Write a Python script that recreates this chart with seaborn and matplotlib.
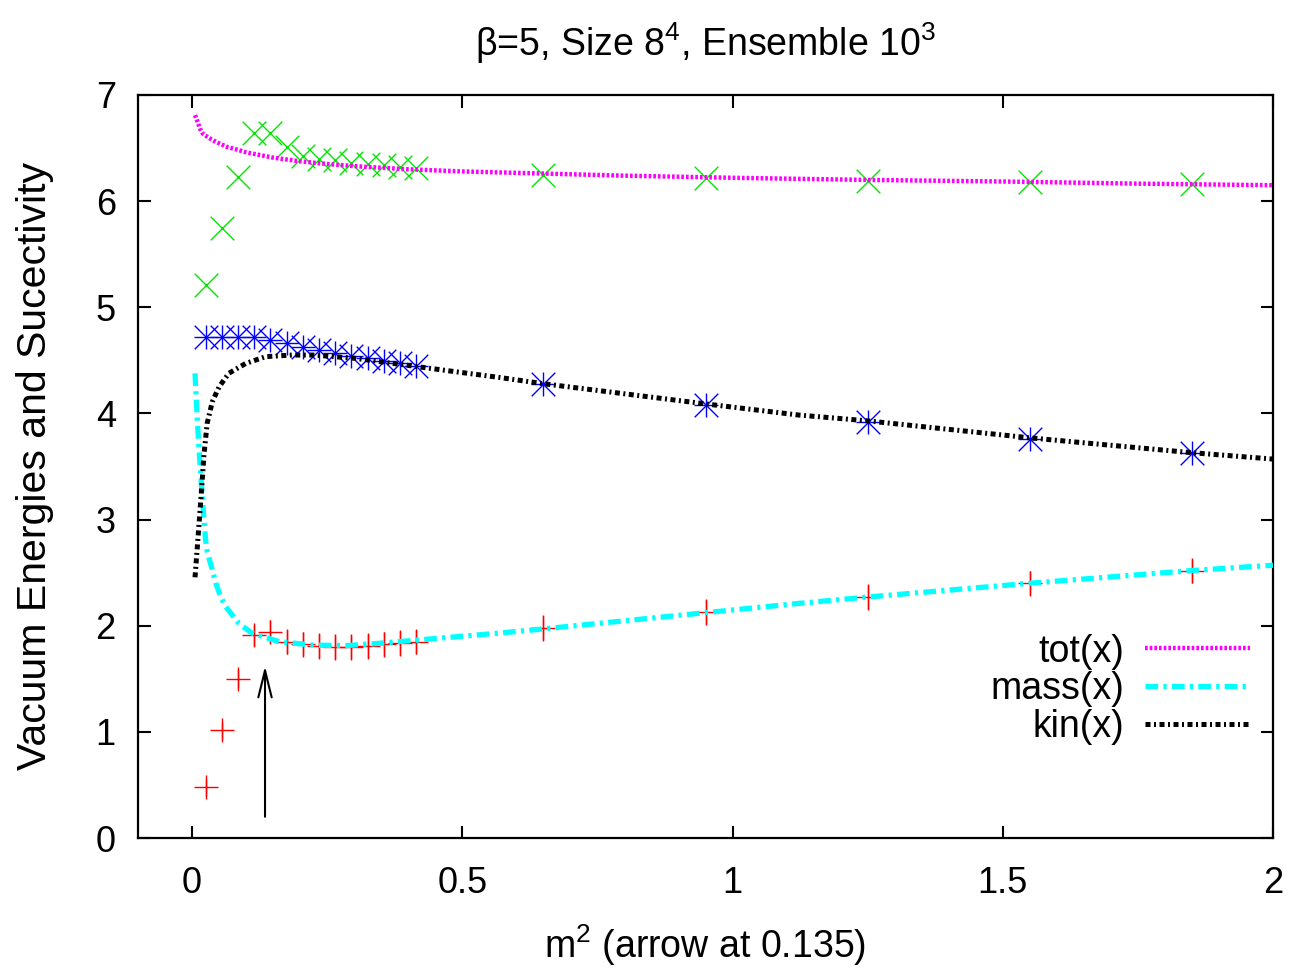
import matplotlib
matplotlib.use("Agg")
import matplotlib.pyplot as plt
import seaborn as sns
import numpy as np

# ---- data points ----
m2_points = [0.025, 0.055, 0.085, 0.115, 0.145, 0.175, 0.205, 0.235, 0.265, 0.295,
             0.325, 0.355, 0.385, 0.415, 0.65, 0.95, 1.25, 1.55, 1.85]
red_vals = [0.48, 1.015, 1.50, 1.91, 1.945, 1.85, 1.825, 1.81, 1.80, 1.80,
            1.81, 1.825, 1.835, 1.85, 1.98, 2.13, 2.27, 2.40, 2.52]
red_err = [0.08, 0.08, 0.09, 0.10, 0.11, 0.12, 0.12, 0.12, 0.12, 0.12,
           0.12, 0.12, 0.12, 0.12, 0.12, 0.12, 0.12, 0.12, 0.12]
blue_vals = [4.72, 4.72, 4.72, 4.72, 4.69, 4.66, 4.625, 4.60, 4.572, 4.54,
             4.52, 4.497, 4.472, 4.45, 4.28, 4.08, 3.92, 3.76, 3.63]
green_vals = [5.21, 5.745, 6.23, 6.645, 6.645, 6.51, 6.425, 6.40, 6.39, 6.355,
              6.35, 6.34, 6.325, 6.315, 6.25, 6.22, 6.19, 6.18, 6.16]

# ---- fitted curves ----
tot_x = [0.0055, 0.01, 0.015, 0.02, 0.03, 0.04, 0.05, 0.065, 0.08, 0.1, 0.125, 0.15,
         0.2, 0.25, 0.3, 0.4, 0.5, 0.65, 0.8, 1.0, 1.25, 1.5, 1.75, 2.0]
tot_y = [6.81, 6.75, 6.68, 6.635, 6.60, 6.57, 6.545, 6.51, 6.49, 6.46, 6.435, 6.41,
         6.375, 6.35, 6.33, 6.30, 6.28, 6.26, 6.24, 6.22, 6.20, 6.185, 6.165, 6.15]
kin_x = [0.0055, 0.0098, 0.014, 0.018, 0.022, 0.028, 0.0375, 0.05, 0.068, 0.099, 0.136,
         0.185, 0.225, 0.3, 0.477, 0.567, 0.65, 0.95, 1.122, 1.25, 1.55, 1.85, 2.0]
kin_y = [2.456, 2.745, 3.03, 3.31, 3.61, 3.907, 4.11, 4.25, 4.378, 4.47, 4.535,
         4.55, 4.55, 4.52, 4.40, 4.34, 4.28, 4.09, 3.985, 3.93, 3.77, 3.63, 3.57]
mass_x = [0.0055, 0.0098, 0.013, 0.019, 0.022, 0.025, 0.028, 0.0375, 0.044, 0.053, 0.062,
          0.087, 0.111, 0.161, 0.222, 0.284, 0.346, 0.567, 0.65, 1.122, 1.25, 1.55, 1.85, 2.0]
mass_y = [4.378, 3.93, 3.655, 3.216, 3.0, 2.81, 2.70, 2.525, 2.40, 2.273, 2.18,
          2.02, 1.93, 1.85, 1.818, 1.812, 1.834, 1.93, 1.97, 2.21, 2.27, 2.40, 2.52, 2.57]

arrow_x = 0.135
arrow_y0, arrow_y1 = 0.2, 1.62

title = "β=5, Size 8$^4$, Ensemble 10$^3$"
xlabel = "m$^2$ (arrow at 0.135)"
ylabel = "Vacuum Energies and Sucectivity"
xticks = [0, 0.5, 1, 1.5, 2]
xticklabels = ["0", "0.5", "1", "1.5", "2"]
yticks = [0, 1, 2, 3, 4, 5, 6, 7]

sns.set_theme(style="ticks")
plt.rcParams["font.family"] = ["Liberation Sans", "DejaVu Sans"]
plt.rcParams["mathtext.default"] = "regular"
plt.rcParams["text.color"] = "black"
plt.rcParams["axes.labelcolor"] = "black"
plt.rcParams["xtick.color"] = "black"
plt.rcParams["ytick.color"] = "black"

fig = plt.figure(figsize=(12.96, 9.73), dpi=100)
ax = fig.add_axes([138 / 1296, 1 - 838 / 973, (1273 - 138) / 1296, (838 - 95) / 973])

ms = 17
# points
ax.errorbar(m2_points, red_vals, yerr=red_err, fmt="none", ecolor="#ff0000",
            elinewidth=1.0, capsize=0, zorder=2)
sns.scatterplot(x=m2_points, y=red_vals, ax=ax, marker="+", s=ms ** 2,
                color="#ff0000", linewidth=1.0, legend=False, zorder=2)
sns.scatterplot(x=m2_points, y=green_vals, ax=ax, marker="x", s=ms ** 2,
                color="#00e600", linewidth=1.0, legend=False, zorder=2)
sns.scatterplot(x=m2_points, y=blue_vals, ax=ax, marker="+", s=ms ** 2,
                color="#0000ff", linewidth=1.0, legend=False, zorder=2)
sns.scatterplot(x=m2_points, y=blue_vals, ax=ax, marker="x", s=ms ** 2,
                color="#0000ff", linewidth=1.0, legend=False, zorder=2)

# curves
sns.lineplot(x=tot_x, y=tot_y, ax=ax, color="#ff00ff", linewidth=3.2,
             linestyle=(0, (0.6, 0.45)), label="tot(x)", zorder=3)
sns.lineplot(x=mass_x, y=mass_y, ax=ax, color="#00ffff", linewidth=3.8,
             linestyle=(0, (2.4, 1.0, 0.6, 1.0)), label="mass(x)", zorder=3)
sns.lineplot(x=kin_x, y=kin_y, ax=ax, color="#000000", linewidth=3.6,
             linestyle=(0, (1.0, 0.7, 0.4, 0.7)), label="kin(x)", zorder=3)

# arrow
ax.annotate("", xy=(arrow_x, arrow_y1), xytext=(arrow_x, arrow_y0),
            arrowprops=dict(arrowstyle="->,head_length=0.97,head_width=0.24",
                            mutation_scale=20, lw=1.5, color="black",
                            shrinkA=0, shrinkB=0), zorder=4)

ax.set_xlim(-0.1, 2)
ax.set_ylim(0, 7)
ax.set_xticks(xticks)
ax.set_xticklabels(xticklabels)
ax.set_yticks(yticks)
ax.tick_params(axis="x", direction="in", length=9, width=1.5, labelsize=26,
               top=True, pad=20.5)
ax.tick_params(axis="y", direction="in", length=9, width=1.5, labelsize=26,
               right=True, pad=16)
for s in ax.spines.values():
    s.set_linewidth(1.6)
    s.set_color("black")

ax.set_title(title, fontsize=27, pad=28)
ax.set_xlabel(xlabel, fontsize=27, labelpad=15)
ax.set_ylabel(ylabel, fontsize=29.5, labelpad=30)

handles, labels = ax.get_legend_handles_labels()
leg = ax.legend(handles, labels, loc="center right", bbox_to_anchor=(1 - 23 / 1135, 0.2),
                frameon=False, markerfirst=False, fontsize=27, handlelength=2.8,
                handletextpad=0.55, labelspacing=0.05, borderpad=0, borderaxespad=0)

fig.savefig("out.png", dpi=100, facecolor="white")
